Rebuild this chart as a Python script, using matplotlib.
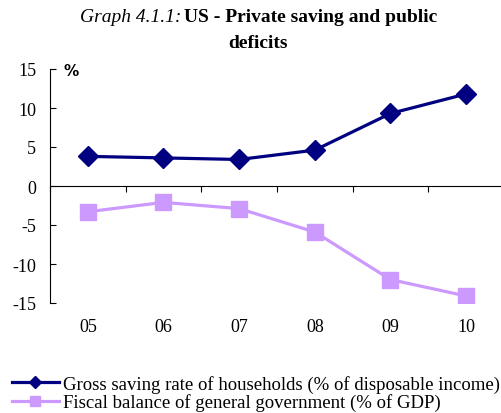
import matplotlib
matplotlib.use("Agg")
import matplotlib.pyplot as plt
import numpy as np

# data
years = ["05", "06", "07", "08", "09", "10"]
saving = [3.8, 3.6, 3.4, 4.6, 9.3, 11.8]
fiscal = [-3.3, -2.1, -2.9, -5.9, -12.0, -14.1]
yticks = [-15, -10, -5, 0, 5, 10, 15]

navy = "#000080"
lilac = "#CC99FF"

plt.rcParams["font.family"] = "Liberation Serif"
fig = plt.figure(figsize=(5.02, 4.14), dpi=100)
ax = fig.add_axes([50 / 502, 1 - 304 / 414, 454 / 502, 234 / 414])

x = np.arange(len(years))
ax.plot(x, saving, color=navy, lw=2.3, marker="D", ms=10, label="Gross saving rate of households (% of disposable income)")
ax.plot(x, fiscal, color=lilac, lw=2.3, marker="s", ms=11, label="Fiscal balance of general government (% of GDP)")

ax.set_xlim(-0.5, len(years) - 0.5)
ax.set_ylim(-15, 15)
ax.set_yticks(yticks)
ax.set_yticklabels([str(v) for v in yticks], fontsize=13)
ax.tick_params(axis="y", direction="in", length=4, width=0.8, pad=10)

ax.set_xticks(x)
ax.set_xticklabels(years, fontsize=13)
ax.tick_params(axis="x", length=0, pad=11)
for s in ["top", "right", "bottom"]:
    ax.spines[s].set_visible(False)
ax.spines["left"].set_linewidth(0.8)

# zero line with category boundary ticks
zero = ax.secondary_xaxis(0.5)
zero.set_xticks(np.arange(len(years) + 1) - 0.5)
zero.set_xticklabels([])
zero.tick_params(direction="in", length=4, width=0.8)
zero.spines["bottom"].set_linewidth(0.8)

fig.text(64 / 502, 1 - 71 / 414, "%", fontsize=11, fontweight="bold", family="DejaVu Sans", va="center", ha="left")

fig.text(181 / 502, 1 - 18 / 414, "Graph 4.1.1:", fontsize=14, style="italic", ha="right", va="center")
fig.text(184 / 502, 1 - 18 / 414, "US - Private saving and public", fontsize=14, fontweight="bold", ha="left", va="center")
fig.text(258 / 502, 1 - 44 / 414, "deficits", fontsize=14, fontweight="bold", ha="center", va="center")

leg = ax.legend(loc="upper left", bbox_to_anchor=(12 / 502, 1 - 376 / 414), bbox_transform=fig.transFigure,
                frameon=False, fontsize=13.5, markerscale=0.6, handlelength=2.5, handletextpad=0.22,
                labelspacing=0.02, borderpad=0, borderaxespad=0)

fig.savefig("out.png", dpi=100)
